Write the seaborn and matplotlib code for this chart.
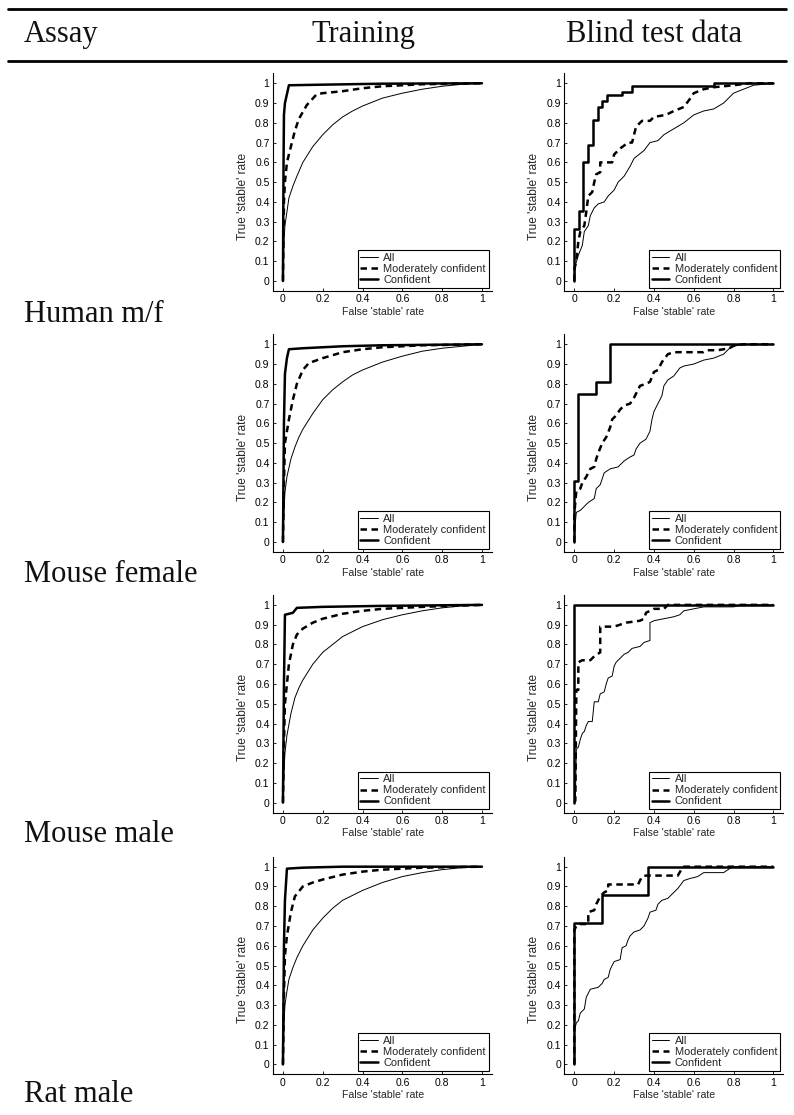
import matplotlib
matplotlib.use("Agg")
import matplotlib.pyplot as plt
from matplotlib.lines import Line2D
import seaborn as sns

W, H = 794, 1115

ASSAYS = ["Human m/f", "Mouse female", "Mouse male", "Rat male"]
HEADERS = ["Assay", "Training", "Blind test data"]
SERIES = ["All", "Moderately confident", "Confident"]
X_TICKS = [0, 0.2, 0.4, 0.6, 0.8, 1]
Y_TICKS = [0, 0.1, 0.2, 0.3, 0.4, 0.5, 0.6, 0.7, 0.8, 0.9, 1]

# ---- Human m/f ----
hum_train_all_x = [0, 0.005, 0.01, 0.02, 0.03, 0.05, 0.07, 0.1, 0.15, 0.2, 0.25, 0.3, 0.35, 0.4, 0.45, 0.5, 0.6, 0.7, 0.8, 0.9, 1]
hum_train_all_y = [0, 0.2, 0.28, 0.35, 0.42, 0.48, 0.53, 0.6, 0.68, 0.74, 0.79, 0.83, 0.86, 0.885, 0.905, 0.925, 0.95, 0.97, 0.985, 0.995, 1]
hum_train_mod_x = [0, 0.005, 0.01, 0.02, 0.04, 0.06, 0.08, 0.12, 0.17, 0.2, 0.3, 0.4, 0.5, 0.7, 1]
hum_train_mod_y = [0, 0.4, 0.5, 0.6, 0.68, 0.76, 0.82, 0.89, 0.945, 0.95, 0.96, 0.975, 0.985, 0.995, 1]
hum_train_conf_x = [0, 0.003, 0.005, 0.01, 0.03, 0.2, 0.5, 1]
hum_train_conf_y = [0, 0.6, 0.84, 0.9, 0.99, 0.993, 0.998, 1]

hum_test_all_x = [0, 0.005, 0.02, 0.04, 0.05, 0.07, 0.08, 0.1, 0.12, 0.15, 0.17, 0.2, 0.22, 0.25, 0.28, 0.3, 0.35, 0.38, 0.42, 0.45, 0.5, 0.55, 0.6, 0.65, 0.7, 0.75, 0.8, 0.85, 0.9, 1]
hum_test_all_y = [0, 0.08, 0.13, 0.18, 0.25, 0.28, 0.33, 0.37, 0.39, 0.4, 0.43, 0.46, 0.5, 0.53, 0.58, 0.62, 0.66, 0.7, 0.71, 0.74, 0.77, 0.8, 0.84, 0.86, 0.87, 0.9, 0.95, 0.97, 0.99, 1]
hum_test_mod_x = [0, 0, 0.01, 0.02, 0.03, 0.05, 0.06, 0.07, 0.09, 0.1, 0.11, 0.13, 0.13, 0.19, 0.2, 0.23, 0.27, 0.29, 0.31, 0.34, 0.38, 0.4, 0.46, 0.5, 0.55, 0.58, 0.6, 0.65, 0.7, 0.8, 0.88, 1]
hum_test_mod_y = [0, 0.06, 0.1, 0.2, 0.25, 0.28, 0.35, 0.43, 0.45, 0.5, 0.54, 0.55, 0.6, 0.6, 0.64, 0.67, 0.7, 0.7, 0.78, 0.81, 0.81, 0.83, 0.84, 0.86, 0.88, 0.92, 0.95, 0.97, 0.98, 0.99, 1, 1]
hum_test_conf_x = [0, 0, 0.025, 0.025, 0.045, 0.045, 0.07, 0.07, 0.095, 0.095, 0.12, 0.12, 0.14, 0.14, 0.165, 0.165, 0.24, 0.24, 0.29, 0.29, 0.7, 0.7, 1]
hum_test_conf_y = [0, 0.265, 0.265, 0.355, 0.355, 0.6, 0.6, 0.69, 0.69, 0.815, 0.815, 0.88, 0.88, 0.91, 0.91, 0.94, 0.94, 0.955, 0.955, 0.985, 0.985, 1, 1]

# ---- Mouse female ----
mf_train_all_x = [0, 0.005, 0.01, 0.02, 0.04, 0.06, 0.08, 0.1, 0.15, 0.2, 0.25, 0.3, 0.35, 0.4, 0.5, 0.6, 0.7, 0.8, 0.9, 1]
mf_train_all_y = [0, 0.15, 0.25, 0.33, 0.42, 0.48, 0.53, 0.57, 0.65, 0.72, 0.77, 0.81, 0.845, 0.87, 0.91, 0.94, 0.965, 0.98, 0.99, 1]
mf_train_mod_x = [0, 0.005, 0.01, 0.03, 0.05, 0.07, 0.1, 0.13, 0.2, 0.3, 0.4, 0.5, 0.7, 1]
mf_train_mod_y = [0, 0.3, 0.5, 0.62, 0.72, 0.8, 0.87, 0.905, 0.93, 0.96, 0.975, 0.985, 0.995, 1]
mf_train_conf_x = [0, 0.005, 0.01, 0.02, 0.03, 0.1, 0.3, 0.5, 1]
mf_train_conf_y = [0, 0.6, 0.85, 0.93, 0.975, 0.98, 0.99, 0.995, 1]

mf_test_all_x = [0, 0.005, 0.01, 0.03, 0.05, 0.07, 0.1, 0.11, 0.13, 0.14, 0.15, 0.18, 0.22, 0.25, 0.28, 0.3, 0.31, 0.33, 0.36, 0.38, 0.39, 0.4, 0.42, 0.44, 0.45, 0.47, 0.5, 0.53, 0.55, 0.6, 0.65, 0.7, 0.75, 0.78, 0.82, 0.85, 1]
mf_test_all_y = [0, 0.1, 0.15, 0.16, 0.18, 0.2, 0.22, 0.27, 0.29, 0.32, 0.35, 0.37, 0.38, 0.41, 0.43, 0.44, 0.47, 0.5, 0.52, 0.56, 0.62, 0.66, 0.7, 0.74, 0.79, 0.82, 0.84, 0.88, 0.89, 0.9, 0.92, 0.93, 0.95, 0.98, 0.995, 1, 1]
mf_test_mod_x = [0, 0, 0.005, 0.01, 0.03, 0.04, 0.06, 0.08, 0.1, 0.11, 0.12, 0.14, 0.16, 0.18, 0.19, 0.21, 0.23, 0.25, 0.28, 0.3, 0.33, 0.36, 0.38, 0.4, 0.42, 0.44, 0.47, 0.5, 0.65, 0.67, 0.72, 0.78, 0.8, 0.85, 1]
mf_test_mod_y = [0, 0.15, 0.2, 0.26, 0.27, 0.3, 0.33, 0.37, 0.38, 0.42, 0.45, 0.5, 0.53, 0.58, 0.62, 0.64, 0.67, 0.69, 0.7, 0.73, 0.79, 0.8, 0.81, 0.86, 0.87, 0.91, 0.95, 0.96, 0.96, 0.97, 0.97, 0.98, 0.995, 1, 1]
mf_test_conf_x = [0, 0, 0.02, 0.02, 0.11, 0.11, 0.18, 0.18, 1]
mf_test_conf_y = [0, 0.31, 0.31, 0.75, 0.75, 0.81, 0.81, 1, 1]

# ---- Mouse male ----
mm_train_all_x = [0, 0.005, 0.01, 0.02, 0.04, 0.06, 0.08, 0.1, 0.15, 0.2, 0.25, 0.3, 0.4, 0.5, 0.6, 0.7, 0.8, 0.9, 1]
mm_train_all_y = [0, 0.15, 0.25, 0.34, 0.45, 0.53, 0.58, 0.62, 0.7, 0.76, 0.8, 0.84, 0.89, 0.925, 0.95, 0.97, 0.985, 0.995, 1]
mm_train_mod_x = [0, 0.005, 0.01, 0.03, 0.05, 0.07, 0.1, 0.15, 0.2, 0.3, 0.4, 0.5, 0.7, 1]
mm_train_mod_y = [0, 0.3, 0.5, 0.7, 0.8, 0.85, 0.88, 0.91, 0.93, 0.955, 0.97, 0.98, 0.99, 1]
mm_train_conf_x = [0, 0.005, 0.01, 0.05, 0.07, 0.2, 0.5, 1]
mm_train_conf_y = [0, 0.6, 0.95, 0.96, 0.985, 0.99, 0.995, 1]

mm_test_all_x = [0, 0.005, 0.01, 0.02, 0.03, 0.04, 0.05, 0.06, 0.07, 0.09, 0.1, 0.12, 0.13, 0.15, 0.16, 0.17, 0.19, 0.2, 0.21, 0.23, 0.25, 0.27, 0.29, 0.33, 0.35, 0.38, 0.38, 0.4, 0.45, 0.5, 0.53, 0.55, 0.6, 0.65, 0.8, 0.85, 1]
mm_test_all_y = [0, 0.01, 0.27, 0.28, 0.32, 0.35, 0.36, 0.39, 0.41, 0.41, 0.51, 0.51, 0.55, 0.56, 0.6, 0.63, 0.64, 0.69, 0.71, 0.73, 0.75, 0.76, 0.78, 0.79, 0.81, 0.82, 0.91, 0.92, 0.93, 0.94, 0.95, 0.97, 0.98, 0.99, 0.99, 1, 1]
mm_test_mod_x = [0, 0.005, 0.01, 0.02, 0.02, 0.04, 0.08, 0.1, 0.13, 0.13, 0.2, 0.23, 0.26, 0.33, 0.35, 0.36, 0.4, 0.45, 0.47, 1]
mm_test_mod_y = [0, 0.01, 0.57, 0.57, 0.71, 0.72, 0.72, 0.74, 0.76, 0.89, 0.89, 0.9, 0.91, 0.92, 0.93, 0.96, 0.98, 0.98, 1, 1]
mm_test_conf_x = [0, 0, 1]
mm_test_conf_y = [0, 1, 1]

# ---- Rat male ----
rm_train_all_x = [0, 0.005, 0.01, 0.02, 0.03, 0.05, 0.07, 0.1, 0.15, 0.2, 0.25, 0.3, 0.4, 0.5, 0.6, 0.7, 0.8, 0.9, 1]
rm_train_all_y = [0, 0.2, 0.3, 0.37, 0.43, 0.49, 0.54, 0.6, 0.68, 0.74, 0.79, 0.83, 0.88, 0.92, 0.95, 0.97, 0.985, 0.995, 1]
rm_train_mod_x = [0, 0.005, 0.01, 0.02, 0.04, 0.06, 0.1, 0.15, 0.2, 0.3, 0.4, 0.5, 0.7, 1]
rm_train_mod_y = [0, 0.35, 0.55, 0.65, 0.77, 0.85, 0.9, 0.92, 0.935, 0.96, 0.975, 0.985, 0.995, 1]
rm_train_conf_x = [0, 0.005, 0.01, 0.02, 0.1, 0.3, 1]
rm_train_conf_y = [0, 0.6, 0.83, 0.99, 0.995, 1, 1]

rm_test_all_x = [0, 0, 0.01, 0.02, 0.03, 0.05, 0.06, 0.08, 0.12, 0.14, 0.15, 0.17, 0.18, 0.2, 0.23, 0.24, 0.26, 0.27, 0.28, 0.3, 0.33, 0.35, 0.37, 0.38, 0.41, 0.42, 0.44, 0.47, 0.49, 0.52, 0.55, 0.58, 0.62, 0.65, 0.75, 0.78, 0.8, 1]
rm_test_all_y = [0, 0.17, 0.21, 0.22, 0.26, 0.28, 0.34, 0.38, 0.39, 0.41, 0.43, 0.44, 0.48, 0.52, 0.53, 0.59, 0.6, 0.63, 0.65, 0.67, 0.68, 0.7, 0.74, 0.77, 0.78, 0.81, 0.83, 0.84, 0.86, 0.89, 0.93, 0.94, 0.95, 0.97, 0.97, 0.99, 1, 1]
rm_test_mod_x = [0, 0, 0.01, 0.02, 0.07, 0.07, 0.1, 0.11, 0.13, 0.15, 0.17, 0.17, 0.32, 0.34, 0.36, 0.52, 0.54, 0.55, 1]
rm_test_mod_y = [0, 0.68, 0.7, 0.71, 0.71, 0.77, 0.78, 0.81, 0.85, 0.87, 0.88, 0.91, 0.91, 0.95, 0.955, 0.955, 0.99, 1, 1]
rm_test_conf_x = [0, 0, 0.14, 0.14, 0.37, 0.37, 1]
rm_test_conf_y = [0, 0.715, 0.715, 0.855, 0.855, 1, 1]

PANELS = [
    [((hum_train_all_x, hum_train_all_y), (hum_train_mod_x, hum_train_mod_y), (hum_train_conf_x, hum_train_conf_y)),
     ((hum_test_all_x, hum_test_all_y), (hum_test_mod_x, hum_test_mod_y), (hum_test_conf_x, hum_test_conf_y))],
    [((mf_train_all_x, mf_train_all_y), (mf_train_mod_x, mf_train_mod_y), (mf_train_conf_x, mf_train_conf_y)),
     ((mf_test_all_x, mf_test_all_y), (mf_test_mod_x, mf_test_mod_y), (mf_test_conf_x, mf_test_conf_y))],
    [((mm_train_all_x, mm_train_all_y), (mm_train_mod_x, mm_train_mod_y), (mm_train_conf_x, mm_train_conf_y)),
     ((mm_test_all_x, mm_test_all_y), (mm_test_mod_x, mm_test_mod_y), (mm_test_conf_x, mm_test_conf_y))],
    [((rm_train_all_x, rm_train_all_y), (rm_train_mod_x, rm_train_mod_y), (rm_train_conf_x, rm_train_conf_y)),
     ((rm_test_all_x, rm_test_all_y), (rm_test_mod_x, rm_test_mod_y), (rm_test_conf_x, rm_test_conf_y))],
]

LINE_STYLES = [
    dict(linewidth=0.7, linestyle="-"),
    dict(linewidth=1.8, linestyle=(0, (2.6, 1.8))),
    dict(linewidth=1.8, linestyle="-"),
]

sns.set_style("ticks")
plt.rcParams["font.family"] = ["Liberation Sans", "DejaVu Sans"]
SERIF = ["Liberation Serif", "DejaVu Serif"]

fig = plt.figure(figsize=(W / 100, H / 100), dpi=100)


def px_rect(left, top, width=218.9, height=217.5):
    return [left / W, 1 - (top + height) / H, width / W, height / H]


COL_LEFT = [273.0, 564.4]
ROW_TOP = [73.4, 334.4, 595.0, 856.8]


def draw_panel(ax, curves):
    for (xs, ys), name, style in zip(curves, SERIES, LINE_STYLES):
        sns.lineplot(x=xs, y=ys, ax=ax, sort=False, estimator=None,
                     color="black", label=name, **style)
    ax.set_xlim(-0.05, 1.05)
    ax.set_ylim(-0.05, 1.05)
    ax.set_xticks(X_TICKS)
    ax.set_xticklabels([f"{t:g}" for t in X_TICKS])
    ax.set_yticks(Y_TICKS)
    ax.set_yticklabels([f"{t:g}" for t in Y_TICKS])
    ax.tick_params(direction="in", length=2.5, width=0.6, pad=2.5,
                   labelsize=7.5, colors="black")
    for side in ["top", "right"]:
        ax.spines[side].set_visible(False)
    for side in ["left", "bottom"]:
        ax.spines[side].set_linewidth(0.8)
        ax.spines[side].set_color("black")
    ax.set_xlabel("False 'stable' rate", fontsize=7.6, va="top")
    ax.set_ylabel("True 'stable' rate", fontsize=8.6)
    ax.xaxis.set_label_coords(0.502, -0.072)
    ax.yaxis.set_label_coords(-0.11, 0.436)
    leg = ax.legend(loc="lower right", fontsize=7.9, frameon=True, fancybox=False,
                    edgecolor="black", framealpha=1, handlelength=1.6,
                    handletextpad=0.5, borderpad=0.25, labelspacing=0.1,
                    borderaxespad=0.3)
    leg.get_frame().set_linewidth(0.8)


for r, row in enumerate(PANELS):
    for c, curves in enumerate(row):
        ax = fig.add_axes(px_rect(COL_LEFT[c], ROW_TOP[r]))
        ax.set_facecolor("none")
        draw_panel(ax, curves)

# table rules
for y in [8.5, 61.0]:
    fig.add_artist(Line2D([8 / W, 786 / W], [1 - y / H, 1 - y / H],
                          transform=fig.transFigure, color="black", linewidth=2.0))

HEADER_X = [24, 312, 566]
for x, text in zip(HEADER_X, HEADERS):
    fig.text(x / W, 1 - 42 / H, text, family=SERIF, fontsize=22,
             va="baseline", ha="left", color="#111111")

LABEL_BASELINE = [322, 582, 842, 1102]
for y, text in zip(LABEL_BASELINE, ASSAYS):
    fig.text(24 / W, 1 - y / H, text, family=SERIF, fontsize=22,
             va="baseline", ha="left", color="#111111")

fig.savefig("out.png", dpi=100, facecolor="white")
